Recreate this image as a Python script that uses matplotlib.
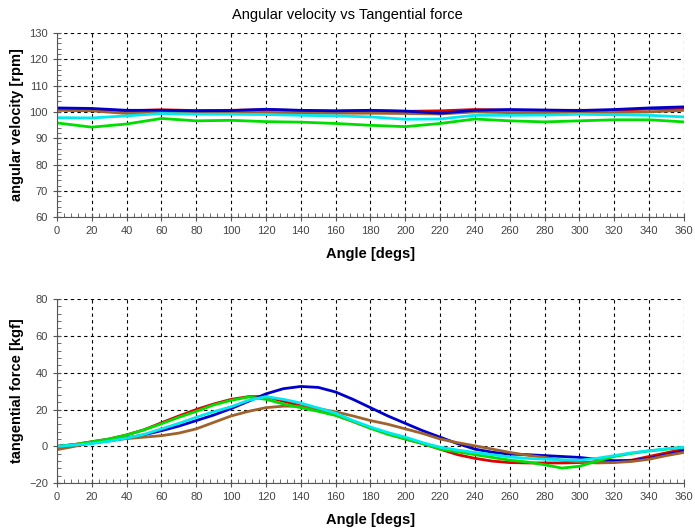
import numpy as np
import matplotlib
matplotlib.use('Agg')
import matplotlib.pyplot as plt
from matplotlib.ticker import MultipleLocator, AutoMinorLocator

plt.rcParams['font.family'] = ['Liberation Sans', 'DejaVu Sans']

# angular velocity [rpm], sampled every 20 degs
angle_vel = list(range(0, 361, 20))
vel_red = [101, 101, 100.4, 100.8, 100.5, 100.6, 100.8, 100.5, 100.3, 100.4,
           100.2, 100.4, 100.9, 100.6, 100.6, 100.6, 100.6, 101.1, 101.3]
vel_blue = [101.5, 101.3, 100.6, 100.6, 100.4, 100.5, 101, 100.6, 100.4, 100.6,
            100.3, 99.5, 100.6, 100.9, 100.7, 100.5, 100.9, 101.5, 101.9]
vel_brown = [100.6, 100.4, 99.4, 99.7, 100, 100, 99.8, 99.6, 99.5, 99.5,
             99.4, 99.2, 100, 99.7, 99.7, 99.7, 99.8, 100, 100.6]
vel_cyan = [97.8, 97.7, 98.5, 99.4, 99.1, 99.1, 99, 98.7, 98.5, 98.1,
            97.2, 97.3, 98.7, 98.7, 98.8, 99.1, 98.9, 98.7, 98.1]
vel_green = [95.8, 94.2, 95.4, 97.5, 96.6, 96.8, 96.3, 96.1, 95.6, 94.9,
             94.4, 95.6, 97.3, 96.6, 96.2, 96.6, 97, 97, 96.2]

# tangential force [kgf], sampled every 10 degs
angle_force = list(range(0, 361, 10))
force_red = [0, 1, 2.5, 4, 6.2, 9, 12.8, 16.5, 20, 23, 25.5, 27, 27, 24.5, 22, 19.5,
             17, 13.5, 10, 7, 4, 1.5, -1.5, -4.5, -6.5, -8, -8.8, -9, -9, -9, -8.8,
             -8.5, -8, -7.5, -5.5, -3.5, -1.5]
force_blue = [0, 0.8, 1.8, 3, 4.5, 6.3, 8.5, 11, 14, 17, 20.5, 24.5, 28.5, 31.3, 32.5,
              32, 29.5, 25.5, 21, 16.5, 12.5, 8.5, 5, 1.5, -1.5, -3.2, -4.2, -4.5, -5,
              -5.5, -6, -7, -7.8, -7.8, -6.5, -4.5, -2.5]
force_brown = [-1.8, 0, 2, 3.2, 4.2, 5, 5.8, 7.2, 9.5, 13, 16.5, 19, 21, 21.8, 21.8,
               20.5, 18.7, 16.5, 14, 12, 9.5, 7, 4, 2, 0.3, -1.5, -3.3, -4.8, -6, -7.5,
               -8.5, -9, -8.8, -8.2, -7, -5, -3.3]
force_cyan = [0, 0.7, 1.5, 2.8, 4.5, 6.5, 9.5, 12.5, 15.8, 18.8, 21.5, 25, 27, 25.5,
              23.5, 20.8, 18, 14, 10.5, 7.5, 5, 2, -0.5, -2, -3.3, -4.5, -5.8, -6.5, -7,
              -7.3, -7.5, -6.5, -5, -3.5, -2.4, -1.3, -0.5]
force_green = [0, 1, 2.5, 4, 6.2, 9, 12.3, 15.8, 19, 22.5, 25, 26.8, 25.5, 23, 21, 19,
               16.8, 13.5, 9.8, 6.5, 4, 1.5, -1.5, -3, -4.5, -6, -7.5, -8.5, -10, -11.8,
               -10.8, -8, -5.5, -3.8, -2.5, -1.5, -0.5]

colors = {'red': '#e00000', 'blue': '#0000cc', 'brown': '#a0622d',
          'cyan': '#00e8f0', 'green': '#00dd00'}


def style_axes(ax, ylim, ystep, ylabel):
    ax.set_xlim(0, 360)
    ax.set_ylim(*ylim)
    ax.xaxis.set_major_locator(MultipleLocator(20))
    ax.xaxis.set_minor_locator(AutoMinorLocator(5))
    ax.yaxis.set_major_locator(MultipleLocator(ystep))
    ax.yaxis.set_minor_locator(AutoMinorLocator(5))
    ax.grid(True, which='major', color='black', linestyle=(0, (3, 3)), linewidth=0.8)
    ax.spines['top'].set_visible(False)
    ax.spines['right'].set_visible(False)
    ax.spines['left'].set_color('#555555')
    ax.spines['bottom'].set_color('#555555')
    ax.tick_params(which='major', direction='inout', length=6, color='#555555',
                   labelsize=8, labelcolor='#444444')
    ax.tick_params(which='minor', direction='in', length=3, color='#555555')
    ax.set_xlabel('Angle [degs]', fontsize=10.5, fontweight='bold', labelpad=8)
    ax.set_ylabel(ylabel, fontsize=10.5, fontweight='bold')


fig = plt.figure(figsize=(6.95, 5.31), dpi=100)
ax1 = fig.add_axes([0.082, 0.591, 0.902, 0.347])
ax2 = fig.add_axes([0.082, 0.090, 0.902, 0.347])

lw = 2.0
ax1.plot(angle_vel, vel_red, color=colors['red'], lw=lw)
ax1.plot(angle_vel, vel_brown, color=colors['brown'], lw=lw)
ax1.plot(angle_vel, vel_blue, color=colors['blue'], lw=lw)
ax1.plot(angle_vel, vel_cyan, color=colors['cyan'], lw=lw)
ax1.plot(angle_vel, vel_green, color=colors['green'], lw=lw)
style_axes(ax1, (60, 130), 10, 'angular velocity [rpm]')

ax2.plot(angle_force, force_red, color=colors['red'], lw=lw)
ax2.plot(angle_force, force_blue, color=colors['blue'], lw=lw)
ax2.plot(angle_force, force_brown, color=colors['brown'], lw=lw)
ax2.plot(angle_force, force_green, color=colors['green'], lw=lw)
ax2.plot(angle_force, force_cyan, color=colors['cyan'], lw=lw)
style_axes(ax2, (-20, 80), 20, 'tangential force [kgf]')

fig.suptitle('Angular velocity vs Tangential force', fontsize=10.5, y=0.985)

fig.savefig('out.png', dpi=100)
